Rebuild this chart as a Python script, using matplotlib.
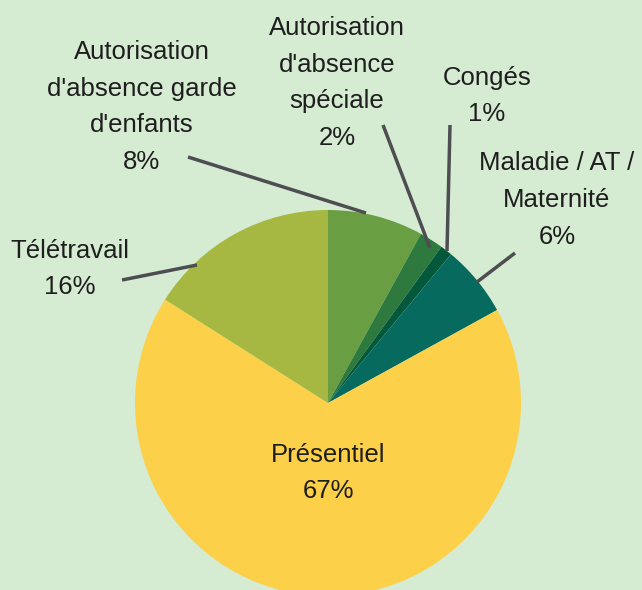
import matplotlib.pyplot as plt

# parts of the workforce, clockwise from the top
labels = ["Autorisation\nd'absence garde\nd'enfants", "Autorisation\nd'absence\nspéciale",
          "Congés", "Maladie / AT /\nMaternité", "Présentiel", "Télétravail"]
values = [8, 2, 1, 6, 67, 16]
colors = ["#6a9e42", "#2e7a3e", "#03573a", "#066b5e", "#fcd048", "#a6b841"]

bg = "#d5ebd2"
W, H = 642, 590

fig = plt.figure(figsize=(6.42, 5.90), dpi=100, facecolor=bg)
ax = fig.add_axes([0, 0, 1, 1])
ax.set_facecolor(bg)

# pie centre / radius in pixels (y from the top)
cx, cy, r = 328, 403, 193
ax.pie(values, colors=colors, startangle=90, counterclock=False,
       center=(cx, H - cy), radius=r, frame=True,
       wedgeprops=dict(linewidth=0))
ax.set_xlim(0, W)
ax.set_ylim(0, H)
ax.set_aspect("equal")
ax.axis("off")

# label placement (x, y from top) and leader lines
label_pos = [(142, 107), (337, 83), (487, 96), (557, 200), (328, 473), (70, 269)]
leaders = [((188, 157), (366, 213)), ((383, 125), (430, 248)),
           ((450, 125), (447, 251)), ((515, 253), (477, 282)),
           None, ((122, 280), (197, 265))]

font = dict(family="Liberation Sans", size=18.5, color="#1e1e1e")
for lab, v, (x, y), ld in zip(labels, values, label_pos, leaders):
    ax.text(x, H - y, f"{lab}\n{v}%", ha="center", va="center",
            linespacing=1.68, **font)
    if ld:
        (x0, y0), (x1, y1) = ld
        ax.plot([x0, x1], [H - y0, H - y1], color="#4d4d52", lw=2.5,
                solid_capstyle="butt")

fig.savefig("out.png", dpi=100, facecolor=bg)
